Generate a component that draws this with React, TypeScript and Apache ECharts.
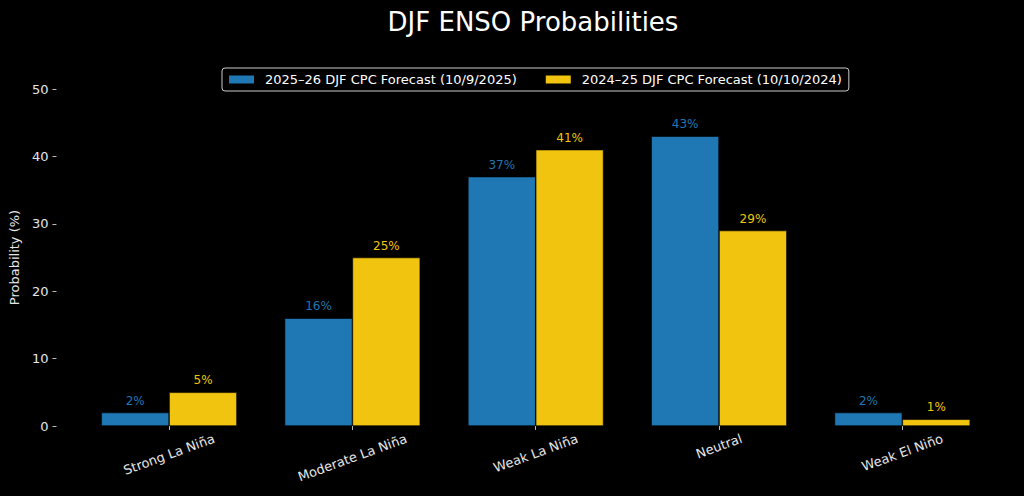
import React, { useEffect, useRef } from "react";
import * as echarts from "echarts";

const categories = ["Strong La Niña", "Moderate La Niña", "Weak La Niña", "Neutral", "Weak El Niño"];
const forecast2025 = [2, 16, 37, 43, 2];
const forecast2024 = [5, 25, 41, 29, 1];
const seriesNames = ["2025–26 DJF CPC Forecast (10/9/2025)", "2024–25 DJF CPC Forecast (10/10/2024)"];
const yTicks = { min: 0, max: 50, interval: 10 };

const BLUE = "#1f77b4";
const YELLOW = "#f1c40f";
const FONT = "DejaVu Sans";
const LABEL_ROT = 20;

function measure(text: string, size: number): number {
  const c = document.createElement("canvas").getContext("2d");
  if (!c) return text.length * size * 0.6;
  c.font = `${size}px "${FONT}"`;
  return c.measureText(text).width;
}

export default function App() {
  const ref = useRef<HTMLDivElement>(null);
  useEffect(() => {
    if (!ref.current) return;
    const chart = echarts.init(ref.current, undefined, { renderer: "svg" });
    const rad = (LABEL_ROT * Math.PI) / 180;
    // mimic matplotlib's ha="center" rotated labels: top of the rotated bbox stays fixed
    const rich: Record<string, any> = {};
    categories.forEach((name, i) => {
      const w = measure(name, 13);
      const d = (Math.sin(rad) * w) / 2;
      const t = 2 * d * Math.cos(rad);
      const r = 2 * d * Math.sin(rad);
      rich["c" + i] = {
        color: "#e6e6e6",
        fontSize: 13,
        fontFamily: FONT,
        padding: [t, r, 0, 0],
      };
    });
    const mkSeries = (name: string, data: number[], color: string) => ({
      type: "bar",
      name,
      data,
      barWidth: "37%",
      barGap: "0%",
      itemStyle: { color, borderColor: "#000", borderWidth: 0.6 },
      label: {
        show: true,
        position: "top",
        distance: 6,
        formatter: "{c}%",
        color,
        fontFamily: FONT,
        fontSize: 12,
      },
    });
    chart.setOption({
      animation: false,
      backgroundColor: "#000",
      textStyle: { fontFamily: FONT },
      title: {
        text: "DJF ENSO Probabilities",
        left: 528,
        textAlign: "center",
        top: 4,
        textStyle: { color: "#fff", fontSize: 26, fontWeight: "normal", fontFamily: FONT },
      },
      legend: {
        top: 68,
        left: 222,
        data: seriesNames,
        itemWidth: 27,
        itemHeight: 10,
        itemGap: 27,
        padding: [5, 7, 5, 5],
        borderColor: "#cccccc",
        borderWidth: 1,
        borderRadius: 3,
        backgroundColor: "#000",
        textStyle: { color: "#fff", fontSize: 13, fontFamily: FONT, padding: [0, 0, 0, 5] },
        icon: "rect",
      },
      grid: { left: 73, right: 30, top: 89, bottom: 70 },
      xAxis: {
        type: "category",
        data: categories,
        axisLine: { show: false },
        axisTick: { show: true, alignWithLabel: true, length: 4, lineStyle: { color: "#bbb" } },
        axisLabel: {
          rotate: LABEL_ROT,
          color: "#e6e6e6",
          fontSize: 13,
          fontFamily: FONT,
          margin: 12,
          align: "center",
          verticalAlign: "middle",
          interval: 0,
          formatter: (v: string) => `{c${categories.indexOf(v)}|${v}}`,
          rich,
        },
      },
      yAxis: {
        type: "value",
        min: yTicks.min,
        max: yTicks.max,
        interval: yTicks.interval,
        offset: 21,
        name: "Probability (%)",
        nameLocation: "middle",
        nameGap: 34,
        nameTextStyle: { color: "#e6e6e6", fontSize: 13, fontFamily: FONT },
        axisLine: { show: false },
        axisTick: { show: true, length: 4, lineStyle: { color: "#bbb" } },
        splitLine: { show: false },
        axisLabel: { color: "#e6e6e6", fontSize: 13, fontFamily: FONT, margin: 8 },
      },
      series: [mkSeries(seriesNames[0], forecast2025, BLUE), mkSeries(seriesNames[1], forecast2024, YELLOW)],
    });
    return () => chart.dispose();
  }, []);
  return <div ref={ref} style={{ width: 1024, height: 496, position: "absolute", left: 0, top: 0 }} />;
}
